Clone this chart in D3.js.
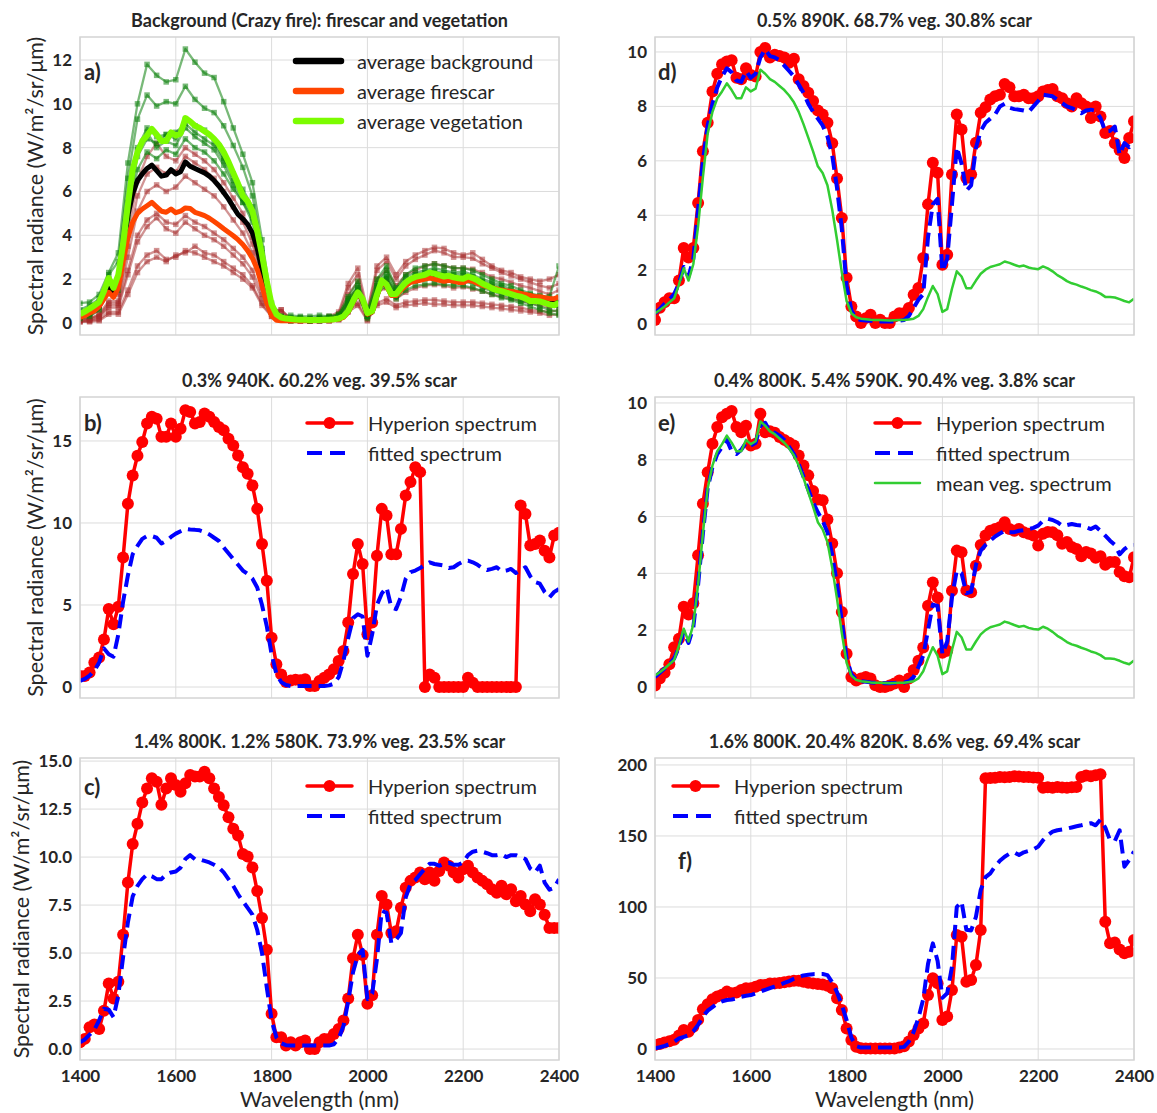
<!DOCTYPE html>
<html>
<head>
<meta charset="utf-8">
<title>Hyperion spectra and fitted spectra</title>
<script src="https://d3js.org/d3.v7.min.js"></script>
<style>
    body { margin: 0; background: #fff; font-family: Lato, "Open Sans", sans-serif; }
    .grid line { stroke: #dcdcdc; stroke-width: 1; }
    .frame { fill: none; stroke: #d4d4d4; stroke-width: 1.5; }
    .tick text { font-family: Lato, sans-serif; font-size: 17px; font-weight: 700; fill: #262626; }
    .title { font-size: 18px; font-weight: 700; fill: #262626; text-anchor: middle; }
    .letter { font-size: 22px; font-weight: 700; fill: #262626; }
    .legend text { font-size: 20px; fill: #262626; dominant-baseline: central; }
    .axis-label { font-size: 21.5px; fill: #262626; text-anchor: middle; }
</style>
</head>
<body>
<svg id="chart" width="1157" height="1113"></svg>
<script>
// wavelength grid (nm), 10 nm bands
const wl = [1400,1410,1420,1430,1440,1450,1460,1470,1480,1490,
    1500,1510,1520,1530,1540,1550,1560,1570,1580,1590,
    1600,1610,1620,1630,1640,1650,1660,1670,1680,1690,
    1700,1710,1720,1730,1740,1750,1760,1770,1780,1790,
    1800,1810,1820,1830,1840,1850,1860,1870,1880,1890,
    1900,1910,1920,1930,1940,1950,1960,1970,1980,1990,
    2000,2010,2020,2030,2040,2050,2060,2070,2080,2090,
    2100,2110,2120,2130,2140,2150,2160,2170,2180,2190,
    2200,2210,2220,2230,2240,2250,2260,2270,2280,2290,
    2300,2310,2320,2330,2340,2350,2360,2370,2380,2390,
    2400];

// coarser grid (nm) for the single background pixels in panel a
const wl20 = [1400,1420,1440,1460,1480,1500,1520,1540,1560,1580,
    1600,1620,1640,1660,1680,1700,1720,1740,1760,1780,
    1800,1820,1840,1860,1880,1900,1920,1940,1960,1980,
    2000,2020,2040,2060,2080,2100,2120,2140,2160,2180,
    2200,2220,2240,2260,2280,2300,2320,2340,2360,2380,
    2400];

// panel a: averages (also mean veg. spectrum of d and e)
const avgBackground = [0.35,0.45,0.55,0.7,0.9,1.3,1.75,1.4,1.9,3.3,
    4.9,5.9,6.5,6.8,7.05,7.2,6.95,6.7,6.75,7.0,
    6.8,6.9,7.35,7.15,7.05,6.95,6.85,6.7,6.5,6.25,
    5.95,5.65,5.3,4.95,4.75,4.5,4.1,3.4,2.4,1.3,
    0.5,0.3,0.2,0.16,0.15,0.14,0.14,0.13,0.13,0.12,
    0.13,0.14,0.14,0.16,0.19,0.28,0.5,0.95,1.35,1.05,
    0.4,0.5,1.25,1.88,1.7,1.28,1.28,1.55,1.78,1.92,
    2.0,2.05,2.1,2.18,2.12,2.05,2.0,2.05,1.98,1.95,
    1.93,2.03,1.97,1.87,1.75,1.68,1.59,1.52,1.47,1.41,
    1.38,1.32,1.27,1.21,1.12,1.1,1.09,1.03,0.97,0.95,
    1.06];
const avgFirescar = [0.26,0.33,0.45,0.56,0.75,1.1,1.4,1.17,1.6,2.8,
    3.9,4.6,5.0,5.2,5.35,5.5,5.3,5.1,5.05,5.2,
    5.03,5.1,5.25,5.22,5.05,4.98,4.9,4.78,4.63,4.47,
    4.3,4.14,3.98,3.8,3.58,3.3,2.95,2.45,1.7,0.9,
    0.33,0.12,0.1,0.1,0.1,0.1,0.1,0.1,0.1,0.1,
    0.11,0.12,0.12,0.14,0.17,0.25,0.5,0.95,1.35,1.05,
    0.4,0.5,1.25,1.85,1.7,1.25,1.25,1.5,1.7,1.85,
    1.9,1.95,2.0,2.05,2.0,1.95,1.9,1.95,1.9,1.85,
    1.85,1.95,1.9,1.8,1.72,1.66,1.6,1.55,1.5,1.46,
    1.45,1.4,1.35,1.3,1.25,1.2,1.2,1.15,1.12,1.1,
    1.2];
const avgVegetation = [0.4,0.52,0.65,0.8,0.95,1.45,2.05,1.6,2.2,3.6,
    5.4,7.0,7.8,8.3,8.55,8.85,8.6,8.3,8.3,8.7,
    8.55,8.65,9.35,9.2,9.0,8.9,8.75,8.6,8.4,8.15,
    7.8,7.35,6.85,6.35,5.8,5.55,5.1,4.2,3.1,1.9,
    0.85,0.4,0.25,0.2,0.18,0.16,0.15,0.15,0.14,0.13,
    0.14,0.15,0.15,0.17,0.2,0.3,0.55,1.0,1.4,1.1,
    0.45,0.55,1.3,1.94,1.75,1.32,1.32,1.6,1.85,2.0,
    2.1,2.15,2.2,2.3,2.25,2.18,2.12,2.15,2.08,2.04,
    2.02,2.12,2.05,1.94,1.8,1.7,1.58,1.5,1.45,1.38,
    1.32,1.25,1.2,1.12,1.0,1.0,0.98,0.92,0.85,0.8,
    0.93];

// panel a: single vegetation pixels (on wl20)
const vegPixel1 = [0.9,0.95,1.3,2.3,3.2,7.3,10.0,11.8,11.3,11.0,
    11.1,12.5,11.9,11.4,11.2,10.1,8.9,7.7,6.4,3.8,
    0.9,0.3,0.35,0.3,0.3,0.35,0.3,0.4,1.2,1.9,
    0.5,2.0,2.6,1.6,2.2,2.5,2.6,2.7,2.6,2.5,
    2.5,2.4,2.2,2.0,1.8,1.7,1.5,1.35,1.25,1.2,
    2.6];
const vegPixel2 = [0.6,0.8,1.1,2.2,2.8,6.6,9.3,10.4,9.9,10.1,
    10.0,10.8,10.2,9.8,9.6,9.0,8.1,7.1,5.8,3.4,
    0.8,0.3,0.25,0.25,0.2,0.25,0.3,0.35,1.0,1.7,
    0.5,1.8,2.4,1.5,2.1,2.3,2.4,2.5,2.4,2.3,
    2.35,2.2,2.0,1.85,1.7,1.55,1.4,1.3,1.2,1.1,
    1.2];
const vegPixel3 = [0.2,0.3,0.6,1.6,1.5,5.5,8.0,8.9,8.5,8.6,
    8.4,9.3,9.0,8.8,8.3,7.5,6.8,6.1,5.3,3.2,
    0.7,0.2,0.15,0.15,0.1,0.15,0.15,0.2,0.9,1.4,
    0.3,1.5,2.0,1.2,1.7,1.9,2.0,2.0,1.95,1.85,
    1.9,1.8,1.6,1.45,1.3,1.15,1.0,0.9,0.75,0.6,
    0.5];
const vegPixel4 = [0.3,0.4,0.8,1.8,1.9,5.0,7.6,8.4,8.2,8.6,
    8.7,9.1,8.7,8.4,8.1,7.4,6.5,5.7,4.9,2.8,
    0.6,0.2,0.2,0.2,0.15,0.2,0.2,0.3,1.0,1.5,
    0.3,1.6,2.1,1.3,1.8,2.1,2.2,2.3,2.2,2.1,
    2.15,2.0,1.8,1.6,1.45,1.3,1.2,1.05,0.95,0.85,
    0.7];
const vegPixel5 = [0.35,0.45,0.7,1.7,1.7,5.2,7.9,8.7,8.0,8.3,
    8.1,8.9,8.5,8.2,7.9,7.2,6.3,5.5,4.6,2.6,
    0.5,0.15,0.1,0.15,0.1,0.1,0.15,0.25,0.8,1.3,
    0.2,1.4,1.7,1.1,1.5,1.7,1.75,1.8,1.75,1.7,
    1.7,1.6,1.45,1.3,1.15,1.05,0.9,0.75,0.6,0.45,
    0.35];
const vegPixel6 = [0.4,0.5,0.8,2.0,1.8,4.8,7.0,7.8,7.5,7.9,
    7.7,8.4,8.0,7.8,7.4,6.8,6.1,5.5,4.8,2.9,
    0.6,0.2,0.15,0.15,0.1,0.15,0.2,0.3,1.1,1.6,
    0.3,1.7,2.2,1.4,1.9,2.2,2.3,2.35,2.3,2.2,
    2.25,2.1,1.9,1.75,1.6,1.45,1.35,1.2,1.1,1.0,
    0.9];

// panel a: single firescar pixels (on wl20)
const scarPixel1 = [0.3,0.3,0.6,1.4,1.3,4.0,6.5,7.6,8.2,7.6,
    7.4,8.0,7.7,7.4,7.0,6.4,5.7,5.0,3.9,2.0,
    0.6,0.6,0.2,0.2,0.2,0.2,0.3,0.5,1.8,2.5,
    0.6,2.6,3.0,2.2,2.8,3.1,3.3,3.45,3.4,3.2,
    3.1,3.2,2.9,2.6,2.4,2.3,2.1,2.0,1.9,2.0,
    2.2];
const scarPixel2 = [0.2,0.2,0.4,1.0,1.0,3.5,5.8,6.8,7.1,6.8,
    6.9,7.6,7.3,7.0,6.6,6.0,5.3,4.6,3.6,1.8,
    0.5,0.5,0.2,0.15,0.15,0.2,0.25,0.4,1.6,2.2,
    0.5,2.4,2.8,2.0,2.6,2.9,3.1,3.3,3.2,3.0,
    3.0,2.95,2.7,2.5,2.3,2.15,2.0,1.85,1.7,1.6,
    1.8];
const scarPixel3 = [0.15,0.2,0.35,0.9,0.9,3.0,5.1,6.0,6.3,6.0,
    6.2,6.7,6.4,6.1,5.8,5.3,4.7,4.1,3.2,1.6,
    0.4,0.3,0.15,0.1,0.1,0.15,0.2,0.35,1.3,1.9,
    0.4,2.0,2.4,1.7,2.2,2.4,2.6,2.7,2.6,2.5,
    2.5,2.45,2.3,2.1,2.0,1.85,1.7,1.6,1.45,1.3,
    1.5];
const scarPixel4 = [0.1,0.15,0.3,0.8,0.8,2.4,4.0,4.7,5.0,4.6,
    4.5,4.9,4.6,4.4,4.1,3.8,3.4,3.0,2.4,1.3,
    0.5,0.6,0.15,0.1,0.1,0.1,0.15,0.3,1.1,1.6,
    0.3,1.7,2.0,1.4,1.8,2.0,2.1,2.15,2.1,2.0,
    2.05,1.95,1.8,1.65,1.5,1.4,1.3,1.2,1.05,0.95,
    1.1];
const scarPixel5 = [0.1,0.1,0.25,0.7,0.7,2.2,3.7,4.4,4.8,4.3,
    4.1,4.6,4.3,4.0,3.8,3.5,3.1,2.7,2.1,1.1,
    0.4,0.3,0.1,0.1,0.1,0.1,0.1,0.2,0.9,1.3,
    0.25,1.4,1.6,1.1,1.4,1.6,1.7,1.75,1.7,1.6,
    1.65,1.55,1.45,1.3,1.2,1.1,1.0,0.9,0.8,0.7,
    0.8];
const scarPixel6 = [0.05,0.1,0.15,0.5,0.5,1.5,2.6,3.1,3.3,2.9,
    3.0,3.3,3.2,3.0,2.8,2.6,2.3,2.0,1.6,0.8,
    0.3,0.2,0.1,0.1,0.1,0.1,0.1,0.15,0.6,0.9,
    0.15,0.9,1.1,0.8,0.95,1.0,1.05,1.05,1.0,0.95,
    0.95,0.95,0.9,0.85,0.8,0.75,0.7,0.6,0.55,0.5,
    0.6];
const scarPixel7 = [0.05,0.05,0.1,0.4,0.4,1.3,2.3,2.8,3.0,2.8,
    3.1,3.2,3.5,3.2,3.1,2.8,2.5,2.2,1.7,0.9,
    0.3,0.15,0.1,0.1,0.1,0.1,0.1,0.15,0.5,0.8,
    0.1,0.8,0.95,0.7,0.8,0.85,0.9,0.85,0.85,0.8,
    0.8,0.8,0.75,0.7,0.65,0.6,0.55,0.5,0.45,0.35,
    0.4];

// panel b
const hyperionB = [0.67,0.67,0.88,1.5,1.8,2.9,4.75,3.83,4.9,7.9,
    11.17,12.9,14.1,14.94,16.06,16.47,16.36,15.25,15.25,16.06,
    15.25,15.75,16.87,16.77,16.06,16.16,16.67,16.47,16.16,15.85,
    15.65,15.14,14.73,14.12,13.4,13.0,12.29,10.86,8.72,6.48,
    3.0,1.39,0.77,0.3,0.4,0.45,0.41,0.47,0.06,0.06,
    0.37,0.57,0.77,1.08,1.59,2.2,3.93,6.89,8.72,7.5,
    3.22,3.93,8.0,10.86,10.45,8.1,8.1,9.64,11.68,12.5,
    13.4,13.1,0.0,0.77,0.57,0.0,0.0,0.0,0.0,0.0,
    0.0,0.57,0.26,0.0,0.0,0.0,0.0,0.0,0.0,0.0,
    0.0,0.0,11.07,10.55,8.62,8.72,8.93,8.3,7.9,9.23,
    9.4];
const fittedB = [0.37,0.5,0.7,1.0,1.5,2.35,2.0,1.85,3.2,5.2,
    6.8,8.1,8.6,9.03,9.2,9.2,9.1,8.75,8.9,9.15,
    9.35,9.5,9.64,9.6,9.58,9.55,9.45,9.3,9.1,8.9,
    8.5,8.15,7.8,7.45,7.1,6.89,6.6,6.07,5.0,3.7,
    2.0,0.8,0.3,0.12,0.06,0.06,0.06,0.06,0.06,0.06,
    0.06,0.06,0.1,0.2,0.6,1.6,3.0,4.2,4.44,4.3,
    1.9,3.22,5.0,5.7,6.07,4.85,4.75,5.5,6.6,7.0,
    7.1,7.25,7.45,7.6,7.5,7.45,7.4,7.25,7.3,7.5,
    7.65,7.7,7.6,7.45,7.25,7.13,7.2,7.3,7.05,7.1,
    7.2,6.95,7.1,7.3,6.75,6.4,6.3,5.8,5.46,5.8,
    5.97];

// panel c
const hyperionC = [0.35,0.53,1.14,1.28,1.05,2.0,3.41,2.63,3.5,5.95,
    8.67,10.68,11.73,12.84,13.57,14.1,13.92,12.73,13.57,14.1,
    13.75,13.4,13.84,14.27,14.2,14.2,14.45,14.1,13.57,13.13,
    12.7,12.08,11.47,11.12,10.16,10.03,9.46,8.23,6.83,5.17,
    1.84,0.61,0.61,0.18,0.35,0.18,0.35,0.44,0.0,0.0,
    0.35,0.53,0.53,0.79,1.05,1.49,2.63,4.73,5.95,4.9,
    2.36,2.8,5.95,7.97,7.53,6.04,6.13,7.36,8.4,8.76,
    8.93,9.2,8.84,9.2,8.76,9.28,9.72,9.55,9.2,8.93,
    9.37,9.55,9.2,8.93,8.76,8.58,8.32,8.14,8.5,8.06,
    8.32,7.7,7.97,7.53,7.18,7.8,7.53,7.0,6.3,6.3,
    6.3];
const fittedC = [0.35,0.5,0.75,1.0,1.5,2.1,2.05,1.66,2.8,4.8,
    6.6,7.95,8.5,8.85,9.1,9.0,8.85,8.85,9.1,9.2,
    9.25,9.45,9.9,10.1,9.88,9.88,9.8,9.72,9.6,9.45,
    9.2,8.85,8.5,8.06,7.7,7.35,7.0,6.2,5.0,3.2,
    1.49,0.61,0.3,0.2,0.18,0.18,0.18,0.18,0.18,0.18,
    0.18,0.18,0.18,0.25,0.55,1.2,2.5,4.0,4.9,5.17,
    2.6,2.89,4.7,7.2,7.1,5.52,5.7,6.04,7.9,8.6,
    8.8,9.1,9.4,9.65,9.65,9.55,9.65,9.7,9.6,9.6,
    9.72,10.1,10.28,10.33,10.28,10.2,10.1,10.1,10.15,10.0,
    10.1,10.1,10.0,9.9,9.4,9.2,9.55,8.67,8.3,8.4,
    8.84];

// panel d
const hyperionD = [0.15,0.6,0.8,0.95,0.95,1.6,2.8,2.45,2.8,4.45,
    6.35,7.4,8.55,9.2,9.55,9.65,9.7,9.05,9.0,9.4,
    9.15,9.1,10.0,10.15,9.8,9.9,9.85,9.8,9.6,9.75,
    9.0,8.75,8.5,8.2,7.85,7.7,7.4,6.65,5.35,3.9,
    1.7,0.65,0.28,0.04,0.22,0.34,0.04,0.16,0.04,0.04,
    0.28,0.4,0.4,0.59,1.08,1.33,2.43,4.4,5.93,5.56,
    2.18,2.55,5.5,7.7,7.15,5.37,5.5,6.66,7.77,7.97,
    8.25,8.37,8.43,8.82,8.7,8.37,8.37,8.43,8.3,8.3,
    8.37,8.55,8.6,8.64,8.37,8.3,8.12,8.0,8.3,8.12,
    8.0,7.57,8.0,7.63,7.02,7.1,6.65,6.4,6.1,6.84,
    7.45];
const fittedD = [0.4,0.55,0.75,0.9,1.1,1.5,2.1,1.75,2.4,4.2,
    6.0,7.3,8.1,8.7,9.1,9.4,9.25,8.95,8.9,9.3,
    9.05,9.2,9.8,10.1,9.85,9.8,9.7,9.5,9.3,9.1,
    8.8,8.5,8.1,7.8,7.55,7.3,6.9,6.2,5.0,3.5,
    1.4,0.5,0.2,0.15,0.13,0.12,0.12,0.1,0.1,0.1,
    0.1,0.12,0.15,0.3,0.6,0.9,1.1,3.2,4.4,4.6,
    1.94,2.4,4.4,6.5,5.9,4.9,5.1,6.47,7.1,7.4,
    7.55,7.7,8.0,8.1,7.95,7.9,7.88,7.85,7.8,8.0,
    8.2,8.43,8.4,8.37,8.25,8.12,8.0,7.94,7.85,7.75,
    7.85,7.88,7.84,7.57,7.08,7.1,7.26,6.22,6.65,6.5,
    6.7];

// panel e
const hyperionE = [0.05,0.3,0.5,0.8,1.4,1.7,2.82,2.55,2.95,4.64,
    6.45,7.56,8.56,9.15,9.5,9.62,9.72,9.15,8.97,9.2,
    8.5,8.56,9.62,8.97,9.0,8.95,8.8,8.7,8.6,8.5,
    8.15,7.8,7.45,6.9,6.6,6.57,5.9,5.05,4.0,2.64,
    1.17,0.35,0.23,0.3,0.35,0.3,0.06,0.0,0.0,0.05,
    0.12,0.23,0.0,0.3,0.6,0.92,1.39,2.86,3.68,3.15,
    1.2,1.27,3.39,4.8,4.74,3.4,3.33,4.27,5.0,5.33,
    5.5,5.56,5.62,5.8,5.56,5.5,5.56,5.45,5.39,5.33,
    4.98,5.39,5.46,5.45,5.34,5.04,5.1,4.93,4.86,4.6,
    4.75,4.7,4.55,4.6,4.3,4.4,4.4,4.05,3.9,3.86,
    4.57];
const fittedE = [0.35,0.5,0.65,0.8,1.0,1.4,1.95,1.55,2.1,3.6,
    5.4,7.0,7.75,8.2,8.45,8.7,8.3,8.2,8.35,8.6,
    8.5,8.6,9.2,9.3,9.0,8.95,8.85,8.7,8.45,8.2,
    7.85,7.4,6.95,6.5,6.15,5.85,5.45,4.65,3.6,2.3,
    1.0,0.45,0.25,0.2,0.18,0.16,0.15,0.14,0.13,0.13,
    0.14,0.15,0.15,0.2,0.35,0.7,1.1,2.0,2.9,2.85,
    1.15,1.6,3.15,4.1,4.0,3.3,3.35,4.3,4.8,5.0,
    5.15,5.3,5.4,5.5,5.45,5.45,5.5,5.52,5.56,5.6,
    5.68,5.85,5.92,5.88,5.8,5.68,5.7,5.74,5.7,5.68,
    5.62,5.56,5.65,5.5,5.33,5.15,5.0,4.67,4.85,4.97,
    5.0];

// panel f
const hyperionF = [2.8,3.5,4.5,5.5,6.5,9.5,13.4,12.2,15.7,20.5,
    28,31.5,35,37,38.2,40.4,39.2,39.7,41.5,42.7,
    42.7,43.9,45,45,46.2,46.2,46.5,47,47.6,48.1,
    48.1,47.4,46.7,46.2,45.8,45.4,44.5,42.7,35.7,27.5,
    14.5,6.3,1.6,0.5,0.3,0.3,0.3,0.3,0.3,0.3,
    0.3,1.0,2.0,5.2,9.9,14.5,18,38,49.8,46.2,
    20.4,22.8,41.5,80.3,79,47.4,48.6,59.2,83.8,190.6,
    190.8,191,191.5,191.3,191.6,192,191.8,191.5,191.6,191.2,
    191,184,184.3,184,184.5,184.2,184,184.3,184.5,191.5,
    192.5,192,192.8,193.5,89.6,74.4,74.9,70,67.4,68.5,
    76.8];
const fittedF = [0.5,1.2,2.2,3.4,5.0,7.5,8.5,9.6,12.5,17,
    22.8,27,29.5,32,33.5,34.5,34.8,35.5,36.8,37.5,
    38,39.2,40.4,41.7,42.9,44,45.2,46.5,47.8,49.5,
    50.8,51.8,52.3,52.7,52.8,52.8,52,47,40,31,
    20.4,8,2,1,1,1,1,1,1,1,
    1,1,1.5,5.2,12,22,35,60,74.4,62,
    36,39.2,58,100,103.8,84,83.5,93,112,121,
    123.7,128.5,132.5,135.4,137.5,138.5,136.6,138.5,139.5,140.5,
    142.5,147,150.5,153,154,154.5,155.2,156,156.8,157.5,
    158.3,159,157.5,161.5,156,147,146.5,154,128.4,133.1,
    139];

// titles and tick labels
const titles = {
    a: "Background (Crazy fire): firescar and vegetation",
    b: "0.3% 940K. 60.2% veg. 39.5% scar",
    c: "1.4% 800K. 1.2% 580K. 73.9% veg. 23.5% scar",
    d: "0.5% 890K. 68.7% veg. 30.8% scar",
    e: "0.4% 800K. 5.4% 590K. 90.4% veg. 3.8% scar",
    f: "1.6% 800K. 20.4% 820K. 8.6% veg. 69.4% scar"
};
const xTicks = [1400, 1600, 1800, 2000, 2200, 2400];
const yTicksA = [0, 2, 4, 6, 8, 10, 12];
const yTicksB = [0, 5, 10, 15];
const yTicksC = [0, 2.5, 5, 7.5, 10, 12.5, 15];
const yTicksD = [0, 2, 4, 6, 8, 10];
const yTicksE = [0, 2, 4, 6, 8, 10];
const yTicksF = [0, 50, 100, 150, 200];

const svg = d3.select("#chart");
const plotW = 479;

const toPoints = (xs, ys) => xs.map((x, i) => ({ x: x, y: ys[i] }));

const hyperionStyle = { color: "#ff0000", width: 3.5, dot: 6 };
const fittedStyle = { color: "#0000ff", width: 4, dash: "14,7" };
const meanVegStyle = { color: "#32cd32", width: 2.5 };
const vegPixelStyle = { color: "#0a800a", width: 2.3, square: 5.5, opacity: 0.55 };
const scarPixelStyle = { color: "#a52a2a", width: 2.3, square: 5.5, opacity: 0.5 };

const panels = [
    {
        id: "a", left: 80, top: 37, bottom: 335, yDomain: [-0.55, 13.05], yTicks: yTicksA, fmt: d3.format("d"),
        letter: [84, 80], ylabelX: 35, xAxis: false,
        series: [
            ...[scarPixel1, scarPixel2, scarPixel3, scarPixel4, scarPixel5, scarPixel6, scarPixel7]
                .map(s => ({ pts: toPoints(wl20, s), style: scarPixelStyle })),
            ...[vegPixel1, vegPixel2, vegPixel3, vegPixel4, vegPixel5, vegPixel6]
                .map(s => ({ pts: toPoints(wl20, s), style: vegPixelStyle })),
            { pts: toPoints(wl, avgBackground), style: { color: "#000000", width: 5 } },
            { pts: toPoints(wl, avgFirescar), style: { color: "#ff4500", width: 5 } },
            { pts: toPoints(wl, avgVegetation), style: { color: "#7cfc00", width: 6 } }
        ],
        legend: {
            x: 296, y: 61, items: [
                { label: "average background", style: { color: "#000000", width: 6.5 } },
                { label: "average firescar", style: { color: "#ff4500", width: 6.5 } },
                { label: "average vegetation", style: { color: "#7cfc00", width: 6.5 } }
            ]
        }
    },
    {
        id: "b", left: 80, top: 397, bottom: 698, yDomain: [-0.67, 17.68], yTicks: yTicksB, fmt: d3.format("d"),
        letter: [84, 431], ylabelX: 35, xAxis: false,
        series: [
            { pts: toPoints(wl, hyperionB), style: hyperionStyle },
            { pts: toPoints(wl, fittedB), style: fittedStyle }
        ],
        legend: {
            x: 307, y: 423, items: [
                { label: "Hyperion spectrum", style: hyperionStyle },
                { label: "fitted spectrum", style: fittedStyle }
            ]
        }
    },
    {
        id: "c", left: 80, top: 758, bottom: 1060, yDomain: [-0.57, 15.16], yTicks: yTicksC, fmt: d3.format(".1f"),
        letter: [84, 795], ylabelX: 21, xAxis: true,
        series: [
            { pts: toPoints(wl, hyperionC), style: hyperionStyle },
            { pts: toPoints(wl, fittedC), style: fittedStyle }
        ],
        legend: {
            x: 307, y: 786, items: [
                { label: "Hyperion spectrum", style: hyperionStyle },
                { label: "fitted spectrum", style: fittedStyle }
            ]
        }
    },
    {
        id: "d", left: 655, top: 37, bottom: 335, yDomain: [-0.4, 10.55], yTicks: yTicksD, fmt: d3.format("d"),
        letter: [658, 80], ylabelX: null, xAxis: false,
        series: [
            { pts: toPoints(wl, hyperionD), style: hyperionStyle },
            { pts: toPoints(wl, fittedD), style: fittedStyle },
            { pts: toPoints(wl, avgVegetation), style: meanVegStyle }
        ],
        legend: null
    },
    {
        id: "e", left: 655, top: 397, bottom: 698, yDomain: [-0.39, 10.21], yTicks: yTicksE, fmt: d3.format("d"),
        letter: [658, 431], ylabelX: null, xAxis: false,
        series: [
            { pts: toPoints(wl, hyperionE), style: hyperionStyle },
            { pts: toPoints(wl, fittedE), style: fittedStyle },
            { pts: toPoints(wl, avgVegetation), style: meanVegStyle }
        ],
        legend: {
            x: 875, y: 423, items: [
                { label: "Hyperion spectrum", style: hyperionStyle },
                { label: "fitted spectrum", style: fittedStyle },
                { label: "mean veg. spectrum", style: meanVegStyle }
            ]
        }
    },
    {
        id: "f", left: 655, top: 758, bottom: 1060, yDomain: [-7.75, 204.9], yTicks: yTicksF, fmt: d3.format("d"),
        letter: [678, 869], ylabelX: null, xAxis: true,
        series: [
            { pts: toPoints(wl, hyperionF), style: hyperionStyle },
            { pts: toPoints(wl, fittedF), style: fittedStyle }
        ],
        legend: {
            x: 673, y: 786, items: [
                { label: "Hyperion spectrum", style: hyperionStyle },
                { label: "fitted spectrum", style: fittedStyle }
            ]
        }
    }
];

function drawSeries(g, pts, st, x, y) {
    const line = d3.line().x(d => x(d.x)).y(d => y(d.y));
    g.append("path")
        .datum(pts)
        .attr("d", line)
        .attr("fill", "none")
        .attr("stroke", st.color)
        .attr("stroke-width", st.width)
        .attr("stroke-opacity", st.opacity || 1)
        .attr("stroke-linejoin", "round")
        .attr("stroke-dasharray", st.dash || null);
    if (st.dot) {
        g.selectAll(null).data(pts).enter().append("circle")
            .attr("cx", d => x(d.x))
            .attr("cy", d => y(d.y))
            .attr("r", st.dot)
            .attr("fill", st.color);
    }
    if (st.square) {
        g.selectAll(null).data(pts).enter().append("rect")
            .attr("x", d => x(d.x) - st.square / 2)
            .attr("y", d => y(d.y) - st.square / 2)
            .attr("width", st.square)
            .attr("height", st.square)
            .attr("fill", st.color)
            .attr("fill-opacity", st.opacity || 1);
    }
}

panels.forEach(p => {
    const x = d3.scaleLinear().domain([1400, 2400]).range([p.left, p.left + plotW]);
    const y = d3.scaleLinear().domain(p.yDomain).range([p.bottom, p.top]);
    const g = svg.append("g").attr("class", "panel-" + p.id);

    // grid
    const grid = g.append("g").attr("class", "grid");
    grid.selectAll(null).data(xTicks).enter().append("line")
        .attr("x1", d => x(d)).attr("x2", d => x(d))
        .attr("y1", p.top).attr("y2", p.bottom);
    grid.selectAll(null).data(p.yTicks).enter().append("line")
        .attr("x1", p.left).attr("x2", p.left + plotW)
        .attr("y1", d => y(d)).attr("y2", d => y(d));

    // clipped data
    const clipId = "clip-" + p.id;
    g.append("clipPath").attr("id", clipId)
        .append("rect")
        .attr("x", p.left).attr("y", p.top)
        .attr("width", plotW).attr("height", p.bottom - p.top);
    const data = g.append("g").attr("clip-path", "url(#" + clipId + ")");
    p.series.forEach(s => drawSeries(data, s.pts, s.style, x, y));

    // frame
    g.append("rect").attr("class", "frame")
        .attr("x", p.left).attr("y", p.top)
        .attr("width", plotW).attr("height", p.bottom - p.top);

    // y axis
    const yAxis = g.append("g")
        .attr("transform", "translate(" + p.left + ",0)")
        .call(d3.axisLeft(y).tickValues(p.yTicks).tickFormat(p.fmt).tickSize(0).tickPadding(8));
    yAxis.select(".domain").remove();

    // x axis on the bottom row
    if (p.xAxis) {
        const xAxis = g.append("g")
            .attr("transform", "translate(0," + p.bottom + ")")
            .call(d3.axisBottom(x).tickValues(xTicks).tickFormat(d3.format("d")).tickSize(0).tickPadding(10));
        xAxis.select(".domain").remove();
        g.append("text").attr("class", "axis-label")
            .attr("x", p.left + plotW / 2).attr("y", p.bottom + 47)
            .text("Wavelength (nm)");
    }

    if (p.ylabelX !== null) {
        g.append("text").attr("class", "axis-label")
            .attr("transform", "translate(" + p.ylabelX + "," + ((p.top + p.bottom) / 2) + ") rotate(-90)")
            .attr("dy", "0.35em")
            .text("Spectral radiance (W/m²/sr/μm)");
    }

    // title and panel letter
    g.append("text").attr("class", "title")
        .attr("x", p.left + plotW / 2).attr("y", p.top - 10)
        .text(titles[p.id]);
    g.append("text").attr("class", "letter")
        .attr("x", p.letter[0]).attr("y", p.letter[1])
        .text(p.id + ")");

    // legend
    if (p.legend) {
        const lg = g.append("g").attr("class", "legend");
        p.legend.items.forEach((it, i) => {
            const ly = p.legend.y + i * 30;
            const st = it.style;
            lg.append("line")
                .attr("x1", p.legend.x).attr("x2", p.legend.x + 45)
                .attr("y1", ly).attr("y2", ly)
                .attr("stroke", st.color)
                .attr("stroke-width", st.width)
                .attr("stroke-linecap", st.dash ? "butt" : "round")
                .attr("stroke-dasharray", st.dash ? "15,8" : null);
            if (st.dot) {
                lg.append("circle").attr("cx", p.legend.x + 22.5).attr("cy", ly)
                    .attr("r", st.dot).attr("fill", st.color);
            }
            lg.append("text").attr("x", p.legend.x + 61).attr("y", ly).text(it.label);
        });
    }
});
</script>
</body>
</html>
